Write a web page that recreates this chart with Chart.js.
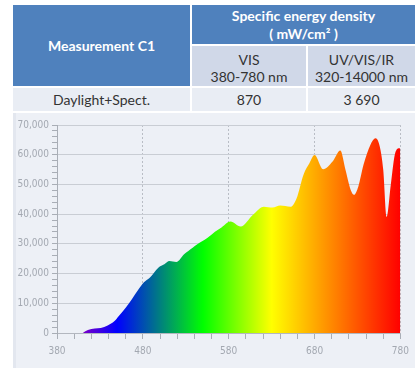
<!DOCTYPE html>
<html lang="en">
<head>
  <meta charset="UTF-8" />
  <title>Measurement C1 - spectrum</title>
  <script src="https://cdn.jsdelivr.net/npm/chart.js"></script>
  <style>
    html, body {
      margin: 0;
      padding: 0;
      width: 415px;
      height: 368px;
      overflow: hidden;
      background: #fff;
      position: relative;
    }

    /* tabla de arriba */
    #summary {
      position: absolute;
      left: 13px;
      top: 5px;
      width: 404px;
      border-collapse: separate;
      border-spacing: 0;
      font-family: Lato, "Open Sans", sans-serif;
      font-size: 14px;
      color: #333;
      text-align: center;
    }
    #summary td {
      padding: 0;
      border-right: 2px solid #fff;
      border-bottom: 2px solid #fff;
      box-sizing: border-box;
    }
    #summary .head {
      background: #4f81bd;
      color: #fff;
      font-weight: bold;
      line-height: 18px;
    }
    #summary .sub {
      background: #d0d8e8;
      line-height: 17px;
      padding-top: 4px;
    }
    #summary .row td {
      background: #e9edf4;
    }

    #panel {
      position: absolute;
      left: 13px;
      top: 113px;
      width: 402px;
      height: 255px;
      background: #edf0f6;
    }
    #panel::before {
      content: "";
      position: absolute;
      left: 0; top: 0; bottom: 0;
      width: 3px;
      background: #e3e7ef;
    }
    canvas { display: block; }
  </style>
</head>
<body>
  <table id="summary">
    <tr style="height:41px">
      <td class="head" rowspan="2" style="width:179px">Measurement C1</td>
      <td class="head" colspan="2">Specific energy density<br>( mW/cm² )</td>
    </tr>
    <tr style="height:42px">
      <td class="sub" style="width:116px">VIS<br>380-780 nm</td>
      <td class="sub">UV/VIS/IR<br>320-14000 nm</td>
    </tr>
    <tr class="row" style="height:25px">
      <td>Daylight+Spect.</td>
      <td>870</td>
      <td>3 690</td>
    </tr>
  </table>

  <div id="panel">
    <canvas id="spectrum" width="402" height="254"></canvas>
  </div>

  <script>
    // longitud de onda (nm) y densidad espectral
    const wavelengths = [410, 416, 424, 431, 439, 447, 452, 460, 467, 475, 481, 488, 498, 505, 511, 519,
      528, 538, 543, 555, 564, 572, 582, 594, 608, 621, 631, 640, 652, 659, 667, 674, 680, 690, 701,
      710, 716, 722, 726, 731, 737, 745, 751, 756, 760, 764, 769, 774, 779, 780];
    const intensity = [0, 1000, 1500, 1700, 2500, 4000, 5700, 8500, 11300, 14700, 17000, 18600, 22000,
      23100, 24200, 23900, 26500, 28700, 29800, 32000, 34100, 35600, 37500, 35800, 39700, 42500, 42200,
      42900, 42500, 45300, 53200, 57100, 59900, 55100, 57700, 61400, 54900, 48200, 46500, 49300, 56600,
      63300, 65500, 62700, 54900, 39000, 50400, 60700, 62200, 62000];

    const xMin = 380, xMax = 780;
    const yMax = 70000;

    const tickFont = { family: "'Liberation Sans Narrow', 'DejaVu Sans Condensed', sans-serif", size: 10 };
    const tickColor = "#a3a8b1";
    const isMajorX = v => (v - xMin) % 100 === 0;

    // degradado del espectro visible
    function spectrumFill(context) {
      const chart = context.chart;
      const { ctx, chartArea, scales } = chart;
      if (!chartArea) return null;
      const x0 = scales.x.getPixelForValue(xMin);
      const x1 = scales.x.getPixelForValue(xMax);
      const g = ctx.createLinearGradient(x0, 0, x1, 0);
      const stop = (nm, c) => g.addColorStop((nm - xMin) / (xMax - xMin), c);
      stop(405, "#8a00c0");
      stop(450, "#0000ff");
      stop(550, "#00ff00");
      stop(630, "#ffff00");
      stop(780, "#ff0000");
      return g;
    }

    const points = wavelengths.map((w, i) => ({ x: w, y: intensity[i] }));

    new Chart(document.getElementById("spectrum"), {
      type: "line",
      data: {
        datasets: [{
          data: points,
          fill: "origin",
          backgroundColor: spectrumFill,
          borderWidth: 0,
          borderColor: "transparent",
          pointRadius: 0,
          cubicInterpolationMode: "monotone"
        }]
      },
      options: {
        responsive: false,
        animation: false,
        layout: { padding: { top: 12, right: 7, left: 0, bottom: 0 } },
        plugins: {
          legend: { display: false },
          tooltip: { enabled: false }
        },
        scales: {
          x: {
            type: "linear",
            min: xMin,
            max: xMax,
            afterFit: s => { s.height = 34; },
            ticks: {
              stepSize: 20,
              autoSkip: false,
              maxRotation: 0,
              padding: 6,
              color: tickColor,
              font: tickFont,
              callback: v => (isMajorX(v) ? String(v) : "")
            },
            grid: {
              color: c => (c.tick && isMajorX(c.tick.value) ? "#b9bdc5" : "transparent"),
              tickColor: "#a9aeb6",
              tickLength: 6
            },
            border: { color: "#b3b7bf", dash: [2, 2] }
          },
          y: {
            min: 0,
            max: yMax,
            afterFit: s => { s.width = 44; },
            ticks: {
              stepSize: 2000,
              autoSkip: false,
              padding: 3,
              color: tickColor,
              font: tickFont,
              callback: v => (v % 10000 === 0 ? v.toLocaleString("en-US") : "")
            },
            grid: {
              color: c => (c.tick && c.tick.value % 10000 === 0 && c.tick.value > 0 ? "#c9cdd4" : "transparent"),
              tickColor: "#a9aeb6",
              tickLength: 5
            },
            border: { color: "#a9aeb6" }
          }
        }
      }
    });
  </script>
</body>
</html>
